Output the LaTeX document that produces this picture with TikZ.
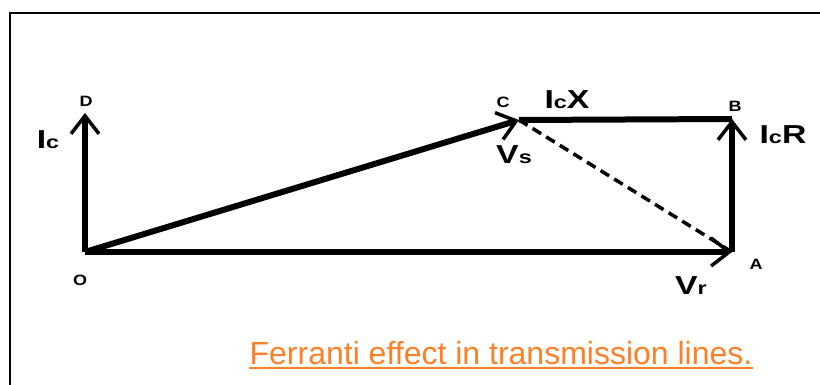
\documentclass[tikz,border=0pt]{standalone}
\usepackage{fontspec}
\setmainfont{Liberation Sans}
\newfontfamily\widefont[FakeStretch=1.3]{Liberation Sans}
\newfontfamily\ptfont[FakeStretch=1.2]{Liberation Sans}
\usetikzlibrary{arrows.meta}
\definecolor{ferr}{RGB}{255,127,39}
\begin{document}
\begin{tikzpicture}[x=1pt,y=-1pt,
  vec/.style={line width=6pt,-{Straight Barb[length=18pt,width=28pt,line width=3.5pt]}},
  pt/.style={font=\ptfont\fontsize{15}{15}\selectfont\bfseries,inner sep=0pt},
  lab/.style={font=\widefont\fontsize{26}{26}\selectfont\bfseries,inner sep=0pt}]
\useasboundingbox (0,0) rectangle (820,385);
\draw[line width=2pt] (10,385) -- (10,13) -- (820,13);
\coordinate (O) at (85,252);
\coordinate (D) at (85,113);
\coordinate (C) at (519,120);
\coordinate (B) at (732,119);
\coordinate (A) at (732,252);
\draw[line width=6pt] (C) -- (B);
\draw[line width=3.5pt,dashed,dash pattern=on 10pt off 6pt] (C) -- (A);
\draw[vec] (O) -- (D);
\draw[vec] (O) -- (C);
\draw[vec] (A) -- (B);
\draw[vec] (O) -- (A);
\node[pt] (lD) at (86,101) {D};
\node[pt] (lC) at (503,102) {C};
\node[pt] (lB) at (735,106) {B};
\node[pt] (lO) at (80,280) {O};
\node[pt] (lA) at (756,264) {A};
\node[lab] (lIc) at (48,140) {I{\fontsize{18}{18}\selectfont c}};
\node[lab] (lIcX) at (567,100) {I{\fontsize{18}{18}\selectfont c}X};
\node[lab] (lIcR) at (783,135) {I{\fontsize{18}{18}\selectfont c}R};
\node[lab] (lVs) at (514,155) {V{\fontsize{18}{18}\selectfont s}};
\node[lab] (lVr) at (691,286) {V{\fontsize{18}{18}\selectfont r}};
\node[font=\fontsize{32}{32}\selectfont,text=ferr,inner sep=0pt,anchor=base] (title) at (501,364) {Ferranti effect in transmission lines.};
\draw[ferr,line width=2pt] ([yshift=-4pt]title.base west) -- ([yshift=-4pt]title.base east);
\end{tikzpicture}
\end{document}
